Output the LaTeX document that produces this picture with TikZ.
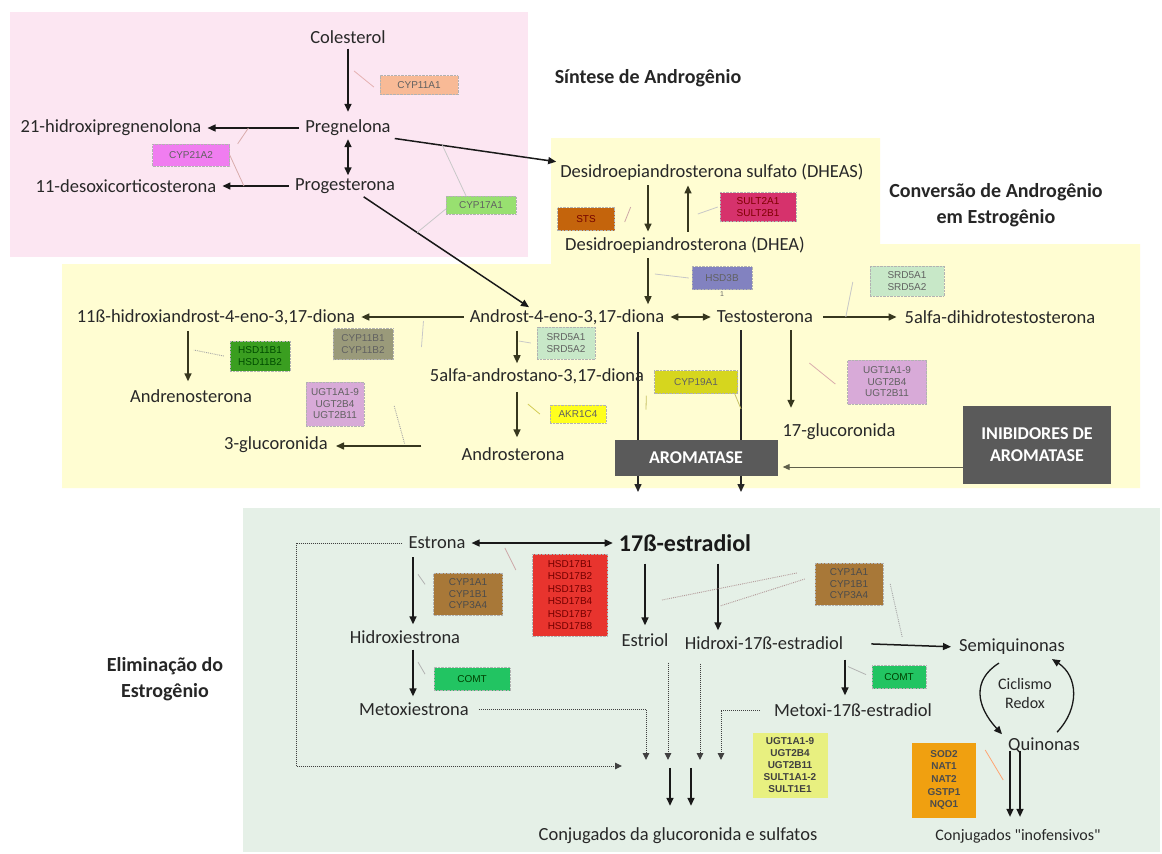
\documentclass[tikz,border=0pt]{standalone}
\usepackage{fontspec}
\setmainfont{Carlito}
\newfontfamily\arialf{Liberation Sans}
\newfontfamily\carlplain{Carlito}
\usetikzlibrary{arrows.meta}
\definecolor{pinkbg}{RGB}{252,230,242}
\definecolor{yelbg}{RGB}{255,253,210}
\definecolor{grnbg}{RGB}{229,240,231}
\definecolor{txtc}{RGB}{40,40,40}
\definecolor{olv}{RGB}{55,55,30}
\definecolor{linkc}{RGB}{200,200,200}
\definecolor{cCYP11A1}{RGB}{248,186,150}
\definecolor{cCYP21A2}{RGB}{240,125,240}
\definecolor{cCYP17A1}{RGB}{152,224,112}
\definecolor{cSTS}{RGB}{196,100,12}
\definecolor{cSULT}{RGB}{214,50,108}
\definecolor{cHSD3B}{RGB}{130,130,192}
\definecolor{cSRD}{RGB}{200,232,200}
\definecolor{cCYP11B}{RGB}{154,154,122}
\definecolor{cHSD11B}{RGB}{58,158,32}
\definecolor{cUGT}{RGB}{216,170,216}
\definecolor{cAKR}{RGB}{255,255,30}
\definecolor{cCYP19}{RGB}{214,214,30}
\definecolor{cArom}{RGB}{90,90,90}
\definecolor{cHSD17}{RGB}{232,52,46}
\definecolor{cCYP1}{RGB}{168,120,56}
\definecolor{cCOMT}{RGB}{34,196,98}
\definecolor{cUGTS}{RGB}{232,240,128}
\definecolor{cSOD}{RGB}{240,160,16}
\tikzset{
  lbl/.style={font=\fontsize{18.5}{21}\selectfont, text=txtc, inner sep=2pt},
  ttl/.style={font=\bfseries\fontsize{20}{26}\selectfont, text=black!85, align=center, inner sep=1pt},
  enz/.style={font=\arialf\fontsize{10}{11.5}\selectfont, text=black!62, align=center, inner sep=1pt, draw=black!30, densely dotted, line width=0.4pt},
  arr/.style={-{Triangle[length=8pt,width=7pt]}, line width=1.5pt, draw=black!90},
  darr/.style={{Triangle[length=8pt,width=7pt]}-{Triangle[length=8pt,width=7pt]}, line width=1.5pt, draw=black!90},
  yarr/.style={arr, draw=olv},
  ydarr/.style={darr, draw=olv},
  link/.style={line width=0.8pt, draw=linkc},
  dlink/.style={line width=0.9pt, draw=black!35, densely dotted},
  dotarr/.style={-{Triangle[length=7pt,width=6.5pt]}, line width=1pt, draw=black!75, densely dotted},
  dark/.style={fill=cArom, text=white, font=\bfseries\fontsize{18}{22}\selectfont, align=center, inner sep=0pt},
}
\begin{document}
\begin{tikzpicture}[x=1pt,y=-1pt]
\useasboundingbox (0,0) rectangle (1162,854);
\fill[white] (0,0) rectangle (1162,854);
% backgrounds
\fill[pinkbg] (10,12) rectangle (528,257);
\fill[yelbg] (62,264) -- (551,264) -- (551,138) -- (880,138) -- (880,244) -- (1140,244) -- (1140,488) -- (62,488) -- cycle;
\fill[grnbg] (243,508) rectangle (1160,852);

% ---------------- Sintese
\node[lbl] (col) at (348,37) {Colesterol};
\node[lbl] (preg) at (348,128) {Pregnelona};
\node[lbl] (prog) at (345,186) {Progesterona};
\node[lbl] (hidp) at (111,128) {21-hidroxipregnenolona};
\node[lbl] (deso) at (126,186) {11-desoxicorticosterona};
\node[ttl] (t1) at (648,78) {Síntese de Androgênio};

\draw[arr, shorten <=3pt, shorten >=6pt] (col) -- (preg) coordinate[pos=0.35] (mcol);
\draw[arr, shorten <=4pt, shorten >=4pt] (preg.west) -- (hidp.east) coordinate[pos=0.55] (mhidp);
\draw[darr] ([yshift=-1pt]preg.south) -- ([yshift=1pt]preg.south |- prog.north);
\draw[arr, shorten <=4pt, shorten >=4pt] (prog.west) -- (deso.east) coordinate[pos=0.55] (mdeso);

\node[enz, fill=cCYP11A1, minimum width=78pt, minimum height=19pt] (cyp11a1) at (419,85) {CYP11A1};
\draw[link, draw=pink!80!gray] ([xshift=-6pt,yshift=-2pt]cyp11a1.west) -- ([xshift=6pt]mcol);
\node[enz, fill=cCYP21A2, minimum width=77pt, minimum height=22pt] (cyp21a2) at (191,155) {CYP21A2};
\draw[link, draw=pink!70!gray] ([xshift=8pt]cyp21a2.north east) -- (mhidp);
\draw[link, draw=pink!70!gray] (cyp21a2.east) -- ([xshift=-8pt]mdeso);

% ---------------- Conversao
\node[lbl] (dheas) at (712,172) {Desidroepiandrosterona sulfato (DHEAS)};
\node[lbl] (dhea) at (685,245) {Desidroepiandrosterona (DHEA)};
\node[lbl] (andro) at (567,317) {Androst-4-eno-3,17-diona};
\node[lbl] (testo) at (765,317) {Testosterona};
\node[lbl] (dht) at (1000,317) {5alfa-dihidrotestosterona};
\node[lbl] (h11) at (216,317) {11ß-hidroxiandrost-4-eno-3,17-diona};
\node[lbl] (andren) at (191,396) {Andrenosterona};
\node[lbl] (astano) at (537,376) {5alfa-androstano-3,17-diona};
\node[lbl] (aster) at (513,454) {Androsterona};
\node[lbl] (glu3) at (276,445) {3-glucoronida};
\node[lbl] (glu17) at (839,432) {17-glucoronida};
\node[ttl] (t2) at (996,205) {Conversão de Androgênio\\em Estrogênio};

\draw[arr, shorten <=2pt, shorten >=2pt] (preg.south east) -- ([yshift=10pt]dheas.west) coordinate[pos=0.3] (mp1);
\draw[arr, shorten <=2pt] ([xshift=17pt]prog.south) -- ([xshift=-38pt]andro.north) coordinate[pos=0.33] (mp2);
\node[enz, fill=cCYP17A1, minimum width=70pt, minimum height=18pt] (cyp17a1) at (481,205) {CYP17A1};
\draw[link] ([xshift=-15pt]cyp17a1.north) -- (mp1);
\draw[link] ([yshift=-4pt]cyp17a1.west) -- (mp2);

\draw[yarr, shorten <=3pt, shorten >=3pt] ([xshift=-64pt]dheas.south) -- ([xshift=-37pt]dhea.north);
\draw[yarr, shorten <=3pt, shorten >=3pt] ([xshift=3pt]dhea.north) -- ([xshift=-24pt]dheas.south);
\node[enz, fill=cSTS, text=red!45!black, minimum width=57pt, minimum height=23pt] (sts) at (586,219) {STS};
\draw[link, draw=pink!60!gray] ([xshift=10pt,yshift=-3pt]sts.east) -- ++(6,-15);
\node[enz, fill=cSULT, text=red!50!black, minimum width=76pt, minimum height=29pt] (sult) at (758,207) {SULT2A1\\SULT2B1};
\draw[link] ([xshift=-2pt]sult.west) -- ++(-20,7);

\draw[yarr, shorten <=3pt, shorten >=3pt] ([xshift=-37pt]dhea.south) -- ([xshift=81pt]andro.north);
\node[enz, fill=cHSD3B, minimum width=60pt, minimum height=23pt] (hsd3b) at (722,278) {HSD3B};
\node[font=\arialf\fontsize{7}{8}\selectfont, text=black!60, inner sep=0pt] (hsd3bone) at (722,294) {1};
\draw[link] ([xshift=-3pt]hsd3b.west) -- ++(-34,-4);

\draw[ydarr, shorten <=4pt, shorten >=4pt] (andro.east) -- (testo.west);
\draw[yarr, shorten <=8pt, shorten >=6pt] (testo.east) -- (dht.west) coordinate[pos=0.35] (mtd);
\node[enz, fill=cSRD, minimum width=74pt, minimum height=30pt] (srd1) at (907,281) {SRD5A1\\SRD5A2};
\draw[link] (mtd) -- ++(7,-35);

\draw[yarr, shorten <=4pt, shorten >=4pt] (andro.west) -- (h11.east) coordinate[pos=0.4] (mah);
\node[enz, fill=cCYP11B, minimum width=60pt, minimum height=31pt] (cyp11b) at (363,344) {CYP11B1\\CYP11B2};
\draw[link] ([yshift=-4pt]mah) -- ++(-2,26);

\draw[yarr, shorten <=4pt, shorten >=6pt] ([xshift=-28pt]h11.south) -- (andren.north -| 188,0);
\node[enz, fill=cHSD11B, text=green!30!black, minimum width=60pt, minimum height=30pt] (hsd11b) at (260,356) {HSD11B1\\HSD11B2};
\draw[dlink] ([xshift=-6pt]hsd11b.west) -- ++(-30,-6);

\draw[yarr, shorten <=4pt, shorten >=3pt] ([xshift=-50pt]andro.south) -- ([xshift=-20pt]astano.north);
\node[enz, fill=cSRD, minimum width=58pt, minimum height=32pt] (srd2) at (566,343) {SRD5A1\\SRD5A2};
\draw[link] ([xshift=-6pt]srd2.west) -- ++(-12,-2);

\draw[yarr, shorten <=6pt, shorten >=8pt] ([xshift=-20pt]astano.south) -- ([xshift=4pt]aster.north);
\node[enz, fill=cAKR, minimum width=56pt, minimum height=18pt] (akr) at (578,414) {AKR1C4};
\draw[link, draw=yellow!60!gray] ([xshift=-10pt]akr.west) -- ++(-12,-10);

\draw[yarr, shorten <=38pt, shorten >=6pt] ([yshift=8pt]aster.west) -- ([yshift=-1pt]glu3.east) coordinate[pos=0.5] (mag);
\node[enz, fill=cUGT, minimum width=58pt, minimum height=44pt] (ugt1) at (335,404) {UGT1A1-9\\UGT2B4\\UGT2B11};
\draw[dlink] ([xshift=30pt,yshift=-2pt]ugt1.east) -- ([xshift=10pt,yshift=2pt]mag);

\node[dark, minimum width=148pt, minimum height=78pt] (inib) at (1037,445) {INIBIDORES DE\\AROMATASE};
\coordinate (e1) at (638,492);
\coordinate (e2) at (741,492);
\draw[yarr, draw=black!85, shorten <=5pt] (andro.south -| e1) -- (e1) coordinate[pos=0.55] (mar1);
\draw[yarr, draw=black!85, shorten <=5pt] (testo.south -| e2) -- (e2) coordinate[pos=0.55] (mar2);
\node[dark, minimum width=163pt, minimum height=36pt] (arom) at (696,458) {AROMATASE};
\node[enz, fill=cCYP19, minimum width=83pt, minimum height=23pt] (cyp19) at (696,382) {CYP19A1};
\draw[link, draw=yellow!50!gray] ([xshift=-8pt,yshift=-2pt]cyp19.south west) -- ([xshift=8pt,yshift=8pt]mar1);
\draw[link, draw=yellow!50!gray] ([xshift=-3pt]cyp19.south east) -- ([yshift=8pt]mar2);

\draw[yarr, shorten <=5pt, shorten >=14pt] ([xshift=26pt]testo.south) -- ([xshift=-48pt]glu17.north);
\node[enz, fill=cUGT, minimum width=79pt, minimum height=44pt] (ugt2) at (887,382) {UGT1A1-9\\UGT2B4\\UGT2B11};
\draw[link, draw=pink!70!gray] ([xshift=-38pt,yshift=19pt]ugt2.west) -- ++(26,21);

\draw[-{Triangle[length=7pt,width=6pt]}, line width=1pt, draw=olv!80, shorten >=5pt] ([yshift=-22pt]inib.west) -- ([yshift=-9pt]arom.east);

% ---------------- Eliminacao
\node[ttl] (t3) at (165,679) {Eliminação do\\Estrogênio};
\node[lbl] (estrona) at (437,543) {Estrona};
\node[lbl, font=\bfseries\fontsize{24}{28}\selectfont, text=black!90] (e2n) at (685,543) {17ß-estradiol};
\node[lbl] (hest) at (405,637) {Hidroxiestrona};
\node[lbl] (mest) at (414,709) {Metoxiestrona};
\node[lbl] (estriol) at (645,640) {Estriol};
\node[lbl] (h17) at (764,643) {Hidroxi-17ß-estradiol};
\node[lbl] (semi) at (1012,647) {Semiquinonas};
\node[lbl] (m17) at (853,710) {Metoxi-17ß-estradiol};
\node[lbl] (quin) at (1044,745) {Quinonas};
\node[lbl] (conj) at (678,836) {Conjugados da glucoronida e sulfatos};
\node[lbl, font=\carlplain\fontsize{16}{18}\selectfont] (conj2) at (1018,836) {Conjugados "inofensivos"};
\node[lbl, font=\fontsize{16}{19}\selectfont, align=center] (redox) at (1025,693) {Ciclismo\\Redox};

\draw[darr, shorten <=4pt, shorten >=4pt] (estrona.east) -- (e2n.west) coordinate[pos=0.25] (mee);
\node[enz, fill=cHSD17, text=red!45!black, minimum width=75pt, minimum height=82pt, font=\arialf\fontsize{10}{12.4}\selectfont] (hsd17) at (570,595) {HSD17B1\\HSD17B2\\HSD17B3\\HSD17B4\\HSD17B7\\HSD17B8};
\draw[link, draw=pink!60!gray] ([yshift=-5pt]mee) -- ++(11,22);

\draw[arr, shorten <=6pt, shorten >=4pt] ([xshift=-24pt]estrona.south) -- (hest.north -| 413,0) coordinate[pos=0.3] (mest1);
\node[enz, fill=cCYP1, text=black!70, minimum width=69pt, minimum height=42pt] (cyp1a) at (468,594) {CYP1A1\\CYP1B1\\CYP3A4};
\draw[link, draw=gray!60] ([xshift=5pt]mest1) -- ++(7,10);

\draw[arr, shorten <=4pt, shorten >=4pt] (hest.south -| 413,0) -- (mest.north -| 413,0) coordinate[pos=0.3] (mest2);
\node[enz, fill=cCOMT, text=green!25!black, minimum width=76pt, minimum height=23pt] (comt1) at (472,679) {COMT};
\draw[link, draw=gray!60] ([xshift=5pt]mest2) -- ++(7,12);

\draw[arr, shorten <=10pt, shorten >=6pt] (e2n.south -| estriol.north) -- (estriol.north);
\draw[arr, shorten <=10pt, shorten >=4pt] (e2n.south -| 718,0) -- (h17.north -| 718,0);
\node[enz, fill=cCYP1, text=black!70, minimum width=68pt, minimum height=42pt] (cyp1b) at (849,584) {CYP1A1\\CYP1B1\\CYP3A4};
\draw[dlink, draw=pink!40!gray] ([xshift=-18pt,yshift=11pt]cyp1b.west) -- (662,600);
\draw[dlink, draw=pink!40!gray] ([xshift=-10pt,yshift=5pt]cyp1b.west) -- (720,606);
\draw[dlink] ([xshift=7pt]cyp1b.east) -- ([xshift=19pt,yshift=-53pt]cyp1b.east);

\draw[arr, shorten <=26pt, shorten >=6pt] (h17.east) -- (semi.west);
\draw[arr, shorten <=8pt, shorten >=6pt] (h17.south -| 845,0) -- (m17.north -| 845,0) coordinate[pos=0.3] (mh17);
\node[enz, fill=cCOMT, text=green!25!black, minimum width=54pt, minimum height=23pt] (comt2) at (899,677) {COMT};
\draw[link, draw=gray!60] ([xshift=3pt]mh17) -- ++(18,8);

% dotted connectors to conjugates
\coordinate (tA) at (646,760);
\coordinate (tB) at (668,760);
\coordinate (tC) at (700,760);
\coordinate (tD) at (721,760);
\coordinate (tE) at (622,766);
\coordinate (cnr) at (296,766);
\draw[dotarr, shorten <=8pt] (mest.east) -| (tA);
\draw[dotarr, shorten <=14pt] (estriol.south -| tB) -- (tB);
\draw[dotarr, shorten <=12pt] (h17.south -| tC) -- (tC);
\draw[dotarr, shorten <=12pt] (m17.west) -| (tD);
\draw[dotarr, shorten <=4pt] (estrona.west) -| (cnr) -- (tE);

\draw[arr] ([xshift=-8pt,yshift=58pt]conj.north) -- ([xshift=-8pt,yshift=20pt]conj.north);
\draw[arr] ([xshift=13pt,yshift=58pt]conj.north) -- ([xshift=13pt,yshift=20pt]conj.north);
\node[enz, fill=cUGTS, draw=none, text=black!75, font=\arialf\bfseries\fontsize{10}{12}\selectfont, minimum width=75pt, minimum height=65pt] (ugts) at (790,765) {UGT1A1-9\\UGT2B4\\UGT2B11\\SULT1A1-2\\SULT1E1};

% redox cycle
\draw[arr, line width=1.3pt] ([xshift=-13pt,yshift=-6pt]semi.south) .. controls (972,680) and (976,706) .. ([xshift=-42pt,yshift=1pt]quin.north);
\draw[arr, line width=1.3pt] ([xshift=13pt,yshift=3pt]quin.north) .. controls (1080,708) and (1078,676) .. ([xshift=40pt,yshift=-2pt]semi.south);

\node[enz, fill=cSOD, draw=none, text=black!70, font=\arialf\bfseries\fontsize{10}{12.6}\selectfont, minimum width=64pt, minimum height=75pt] (sod) at (944,780) {SOD2\\NAT1\\NAT2\\GSTP1\\NQO1};
\draw[link, draw=orange!40!pink] ([xshift=9pt,yshift=30pt]sod.east) -- ++(18,30);
\draw[arr] ([xshift=-34pt,yshift=4pt]quin.south) -- ([xshift=-8pt,yshift=10pt]conj2.north);
\draw[arr] ([xshift=-24pt,yshift=4pt]quin.south) -- ([xshift=2pt,yshift=10pt]conj2.north);
\end{tikzpicture}
\end{document}
